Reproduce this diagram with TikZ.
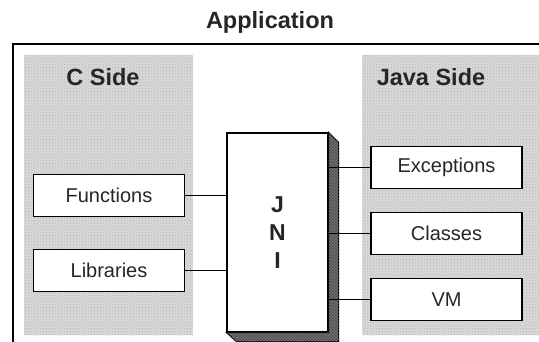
\documentclass[tikz,border=0pt]{standalone}
\usepackage{fontspec}
\setmainfont{Liberation Sans}
\usepackage{tikz}
\usetikzlibrary{positioning,calc,patterns}
\definecolor{PanelGray}{HTML}{D9D9D9}
\definecolor{ShadeGray}{HTML}{7A7A7A}

\begin{document}
\begin{tikzpicture}[
  x=1pt,y=-1pt,
  head/.style={font=\fontsize{23.5}{26}\selectfont\bfseries,text=black!85},
  panel/.style={fill=PanelGray,postaction={pattern=crosshatch dots,pattern color=gray!60},inner sep=0pt},
  item/.style={draw,line width=1.1pt,fill=white,minimum width=151pt,minimum height=42pt,inner sep=0pt,font=\fontsize{20}{24}\selectfont,text=black!85},
  link/.style={line width=1.1pt}
]
\useasboundingbox (0,0) rectangle (539,342);
% outer frame, cut by the page edges
\draw[line width=1.8pt] (13,342) -- (13,44) -- (539,44);
\node[head] (app) at (270,22) {Application};
% the two sides
\node[panel,minimum width=169pt,minimum height=280pt] (cpanel) at (108.5,195) {};
\node[panel,minimum width=177pt,minimum height=280pt] (jpanel) at (450.5,195) {};
\node[head] (cside) at (103,77) {C Side};
\node[head] (jside) at (431,77) {Java Side};
% C side items
\node[item] (func) at (109,195.5) {Functions};
\node[item,below=32pt of func] (libs) {Libraries};
% Java side items
\node[item] (exc) at (446.5,167.5) {Exceptions};
\node[item,below=23pt of exc] (cls) {Classes};
\node[item,below=23pt of cls] (vm) {VM};
% JNI block with its depth
\node[draw,line width=1.1pt,fill=white,minimum width=101pt,minimum height=199pt,inner sep=0pt,
  font=\fontsize{23}{28}\selectfont\bfseries,text=black!85,align=center] (jni) at (277.5,232.5) {J\\N\\I};
\filldraw[line width=1.1pt,fill=ShadeGray,postaction={pattern=crosshatch,pattern color=black!70}]
  (jni.north east) -- ($(jni.north east)+(10,10)$) -- ($(jni.south east)+(10,9)$)
  -- ($(jni.south west)+(10,9)$) -- (jni.south west) -- (jni.south east) -- cycle;
\draw[link] (func.east) -- (func.east -| jni.west);
\draw[link] (libs.east) -- (libs.east -| jni.west);
\draw[link] (exc.west -| jni.east) -- (exc.west);
\draw[link] (cls.west -| jni.east) -- (cls.west);
\draw[link] (vm.west -| jni.east) -- (vm.west);
\end{tikzpicture}
\end{document}
